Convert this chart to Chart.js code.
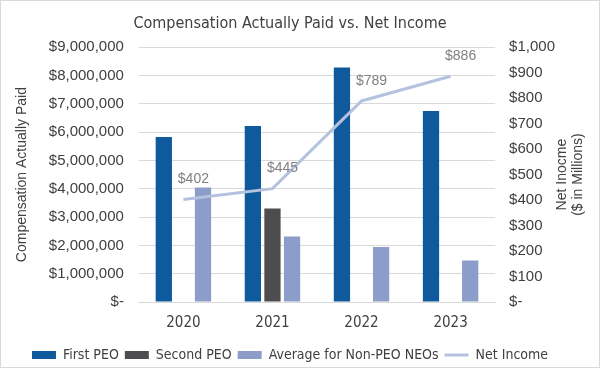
<!DOCTYPE html>
<html>
<head>
<meta charset="utf-8">
<script src="https://cdn.jsdelivr.net/npm/chart.js@4.4.0/dist/chart.umd.min.js"></script>
<style>
  html, body { margin: 0; padding: 0; background: #fff; }
  #wrap { width: 600px; height: 368px; box-sizing: border-box; border: 1px solid #d9d9d9; position: relative; }
</style>
</head>
<body>
<div id="wrap"><canvas id="chart"></canvas></div>
<script>
const years = ['2020', '2021', '2022', '2023'];
const firstPeo = [5830000, 6220000, 8280000, 6750000];
const secondPeo = [null, 3300000, null, null];
const avgNonPeo = [4040000, 2310000, 1940000, 1470000];
const netIncome = [402, 445, 789, 886];
const rightTitle = ['Net Inocme', '($ in Millions)'];

const narrow = '"Liberation Sans Narrow", "DejaVu Sans Condensed", "Liberation Sans", sans-serif';
const plain = '"Liberation Sans", Arial, sans-serif';

function money(v) {
    if (v === 0) return '$-';
    return '$' + v.toLocaleString('en-US');
}

// labels above the net income points, and the right axis title read bottom-up
const extras = {
    id: 'extras',
    afterDatasetsDraw(chart) {
        const ctx = chart.ctx;
        const meta = chart.getDatasetMeta(3);
        ctx.save();
        ctx.font = '14px ' + plain;
        ctx.fillStyle = '#808080';
        ctx.textAlign = 'center';
        ctx.textBaseline = 'middle';
        meta.data.forEach(function (pt, i) {
            ctx.fillText('$' + netIncome[i], pt.x + 10, pt.y - 20);
        });
        ctx.restore();
    },
    afterDraw(chart) {
        const ctx = chart.ctx;
        const ax = chart.scales.y1;
        const cy = (ax.top + ax.bottom) / 2;
        ctx.save();
        ctx.font = '14px ' + plain;
        ctx.fillStyle = '#404040';
        ctx.textAlign = 'center';
        ctx.textBaseline = 'middle';
        ctx.translate(chart.width - 37, cy);
        ctx.rotate(-Math.PI / 2);
        rightTitle.forEach(function (t, i) {
            ctx.fillText(t, 0, i * 16);
        });
        ctx.restore();
    }
};

new Chart(document.getElementById('chart'), {
    type: 'bar',
    data: {
        labels: years,
        datasets: [
            { label: 'First PEO', data: firstPeo, backgroundColor: '#0e5a9c', yAxisID: 'y', pointStyle: 'rect', order: 2 },
            { label: 'Second PEO', data: secondPeo, backgroundColor: '#4d4d4f', yAxisID: 'y', pointStyle: 'rect', order: 2 },
            { label: 'Average for Non-PEO NEOs', data: avgNonPeo, backgroundColor: '#8b9dc8', yAxisID: 'y', pointStyle: 'rect', order: 2 },
            { type: 'line', label: 'Net Income', data: netIncome, borderColor: '#b4c2df', backgroundColor: '#b4c2df',
              borderWidth: 3, pointRadius: 0, yAxisID: 'y1', pointStyle: 'line', order: 1 }
        ]
    },
    options: {
        responsive: true,
        maintainAspectRatio: false,
        animation: false,
        datasets: { bar: { categoryPercentage: 0.66, barPercentage: 0.83, borderWidth: 0 } },
        layout: { padding: { left: 10, right: 30, top: 0, bottom: -5 } },
        plugins: {
            title: {
                display: true,
                text: 'Compensation Actually Paid vs. Net Income',
                color: '#404040',
                font: { family: narrow, size: 16, weight: 'normal' },
                padding: { top: 13, bottom: 14 }
            },
            legend: {
                position: 'bottom',
                labels: {
                    usePointStyle: true,
                    pointStyleWidth: 24,
                    boxWidth: 24,
                    boxHeight: 8,
                    padding: 6,
                    color: '#404040',
                    font: { family: narrow, size: 14 },
                    sort: (a, b) => a.datasetIndex - b.datasetIndex
                }
            },
            tooltip: { enabled: false }
        },
        scales: {
            x: {
                grid: { display: false, drawTicks: false },
                border: { color: '#d9d9d9' },
                ticks: { color: '#404040', font: { family: narrow, size: 15 }, padding: 12 },
                afterFit: function (scale) { scale.height = 40; }
            },
            y: {
                position: 'left',
                min: 0, max: 9000000,
                ticks: { stepSize: 1000000, color: '#404040', font: { family: plain, size: 15 }, padding: 15,
                         callback: v => money(v) },
                grid: { color: '#d9d9d9', drawTicks: false },
                border: { display: false },
                title: { display: true, text: 'Compensation Actually Paid', color: '#404040',
                         font: { family: plain, size: 14 }, padding: 3 }
            },
            y1: {
                position: 'right',
                min: 0, max: 1000,
                ticks: { stepSize: 100, color: '#404040', font: { family: plain, size: 15 }, padding: 14,
                         callback: v => money(v) },
                grid: { display: false, drawTicks: false },
                border: { display: false }
            }
        }
    },
    plugins: [extras]
});
</script>
</body>
</html>
